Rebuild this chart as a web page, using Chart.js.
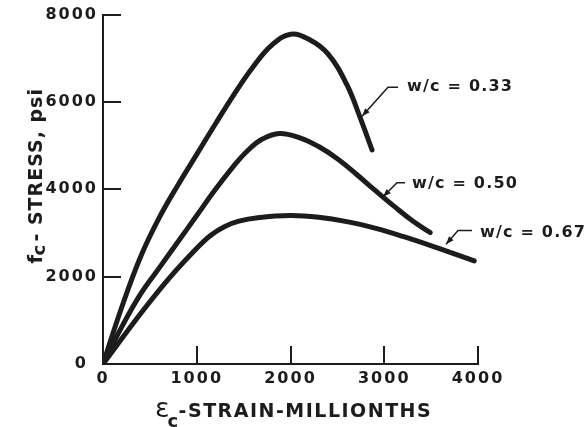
<!DOCTYPE html>
<html>
<head>
<meta charset="utf-8">
<script src="https://cdn.jsdelivr.net/npm/chart.js@4.4.1/dist/chart.umd.min.js"></script>
<style>
  html, body { margin: 0; padding: 0; background: #fff; }
  #wrap { width: 586px; height: 427px; }
</style>
</head>
<body>
<div id="wrap"><canvas id="chart"></canvas></div>
<script>
// axis ticks
const strainTicks = [0, 1000, 2000, 3000, 4000];
const stressTicks = [0, 2000, 4000, 6000, 8000];

// w/c = 0.33
const strain33 = [0, 200, 400, 600, 800, 1000, 1200, 1400, 1600, 1800, 2000, 2200, 2400, 2600, 2750, 2870];
const stress33 = [0, 1300, 2450, 3350, 4100, 4800, 5500, 6180, 6800, 7300, 7550, 7430, 7100, 6400, 5600, 4900];

// w/c = 0.50
const strain50 = [0, 200, 400, 600, 800, 1000, 1200, 1400, 1550, 1700, 1880, 2100, 2300, 2500, 2700, 2900, 3100, 3300, 3490];
const stress50 = [0, 850, 1600, 2200, 2800, 3400, 4000, 4550, 4900, 5150, 5280, 5180, 4980, 4700, 4350, 3980, 3620, 3280, 3010];

// w/c = 0.67
const strain67 = [0, 400, 700, 1000, 1150, 1300, 1450, 1650, 2000, 2300, 2600, 2900, 3200, 3550, 3960];
const stress67 = [0, 1150, 1950, 2650, 2950, 3150, 3270, 3350, 3400, 3360, 3260, 3110, 2920, 2670, 2360];

const curveLabels = ['w/c = 0.33', 'w/c = 0.50', 'w/c = 0.67'];

// label anchor + leader line (strain, stress), last point is the arrow tip
const labelSpots = [
  { at: [3243, 6336], leader: [[3147, 6336], [3040, 6336], [2763, 5675]] },
  { at: [3296, 4125], leader: [[3221, 4148], [3136, 4148], [2987, 3829]] },
  { at: [4021, 3009], leader: [[3936, 3054], [3787, 3054], [3659, 2740]] }
];

const ink = '#1c1c1c';
const face = '"DejaVu Sans"';

function toPoints(xs, ys) {
  return xs.map((x, i) => ({ x: x, y: ys[i] }));
}

function curve(xs, ys, label) {
  return {
    label: label,
    data: toPoints(xs, ys),
    borderColor: ink,
    borderWidth: 5,
    borderCapStyle: 'round',
    borderJoinStyle: 'round',
    pointRadius: 0,
    tension: 0.4,
    fill: false
  };
}

// inward ticks, axis titles and curve labels
const paperPlugin = {
  id: 'paper',
  beforeDraw(chart) {
    chart.ctx.letterSpacing = '2px';
  },
  afterDraw(chart) {
    const ctx = chart.ctx;
    const xs = chart.scales.x;
    const ys = chart.scales.y;
    const area = chart.chartArea;

    ctx.save();
    ctx.strokeStyle = ink;
    ctx.lineWidth = 2;
    ctx.beginPath();
    stressTicks.slice(1).forEach(v => {
      const py = Math.round(ys.getPixelForValue(v));
      ctx.moveTo(area.left, py);
      ctx.lineTo(area.left + 18, py);
    });
    strainTicks.slice(1).forEach(v => {
      const px = Math.round(xs.getPixelForValue(v));
      ctx.moveTo(px, area.bottom);
      ctx.lineTo(px, area.bottom - 18);
    });
    ctx.stroke();

    ctx.fillStyle = ink;
    ctx.textAlign = 'left';

    // x title
    let x = area.left + 52;
    const base = area.bottom + 53;
    ctx.letterSpacing = '0px';
    ctx.font = '27px ' + face;
    ctx.textBaseline = 'alphabetic';
    ctx.fillText('ε', x, base);
    x += ctx.measureText('ε').width;
    ctx.font = 'bold 18px ' + face;
    ctx.fillText('c', x - 2, base + 10);
    x += 9;
    ctx.letterSpacing = '1.5px';
    ctx.font = 'bold 19px ' + face;
    ctx.fillText('-STRAIN-MILLIONTHS', x, base);

    // y title
    ctx.save();
    ctx.translate(42, area.top + 249);
    ctx.rotate(-Math.PI / 2);
    ctx.letterSpacing = '0px';
    ctx.font = 'bold 20px ' + face;
    ctx.fillText('f', 0, 0);
    ctx.font = 'bold 18px ' + face;
    ctx.fillText('c', 8, 3);
    ctx.letterSpacing = '1px';
    ctx.font = 'bold 19px ' + face;
    ctx.fillText('- STRESS, psi', 22, 0);
    ctx.restore();

    // curve labels with leader arrows
    ctx.letterSpacing = '1.2px';
    ctx.font = 'bold 16px ' + face;
    ctx.textBaseline = 'middle';
    ctx.lineWidth = 1.5;
    labelSpots.forEach((s, i) => {
      ctx.fillText(curveLabels[i], xs.getPixelForValue(s.at[0]), ys.getPixelForValue(s.at[1]));
      const pts = s.leader.map(p => [xs.getPixelForValue(p[0]), ys.getPixelForValue(p[1])]);
      ctx.beginPath();
      ctx.moveTo(pts[0][0], pts[0][1]);
      pts.slice(1).forEach(p => ctx.lineTo(p[0], p[1]));
      ctx.stroke();
      const a = pts[pts.length - 2], b = pts[pts.length - 1];
      const ang = Math.atan2(b[1] - a[1], b[0] - a[0]);
      ctx.beginPath();
      ctx.moveTo(b[0], b[1]);
      ctx.lineTo(b[0] - 8 * Math.cos(ang) + 3 * Math.sin(ang), b[1] - 8 * Math.sin(ang) - 3 * Math.cos(ang));
      ctx.lineTo(b[0] - 8 * Math.cos(ang) - 3 * Math.sin(ang), b[1] - 8 * Math.sin(ang) + 3 * Math.cos(ang));
      ctx.closePath();
      ctx.fill();
    });
    ctx.restore();
    ctx.letterSpacing = '0px';
  }
};

new Chart(document.getElementById('chart'), {
  type: 'line',
  data: {
    datasets: [
      curve(strain33, stress33, curveLabels[0]),
      curve(strain50, stress50, curveLabels[1]),
      curve(strain67, stress67, curveLabels[2])
    ]
  },
  options: {
    responsive: true,
    maintainAspectRatio: false,
    animation: false,
    layout: { padding: { top: 13, right: 108, left: 0, bottom: 0 } },
    plugins: {
      legend: { display: false },
      tooltip: { enabled: false }
    },
    scales: {
      x: {
        type: 'linear',
        min: 0,
        max: 4000,
        afterBuildTicks: s => { s.ticks = strainTicks.map(v => ({ value: v })); },
        grid: { display: false, drawTicks: false },
        border: { display: true, color: ink, width: 2 },
        ticks: {
          color: ink,
          padding: 5,
          maxRotation: 0,
          autoSkip: false,
          font: { family: 'DejaVu Sans', size: 16, weight: 'bold' },
          callback: v => String(v)
        },
        afterFit: s => { s.height = 63; }
      },
      y: {
        min: 0,
        max: 8000,
        afterBuildTicks: s => { s.ticks = stressTicks.map(v => ({ value: v })); },
        grid: { display: false, drawTicks: false },
        border: { display: true, color: ink, width: 2 },
        ticks: {
          color: ink,
          padding: 5,
          autoSkip: false,
          font: { family: 'DejaVu Sans', size: 16, weight: 'bold' },
          callback: v => v === 0 ? '0\u2002' : String(v)
        },
        afterFit: s => { s.width = 103; }
      }
    }
  },
  plugins: [paperPlugin]
});
</script>
</body>
</html>
